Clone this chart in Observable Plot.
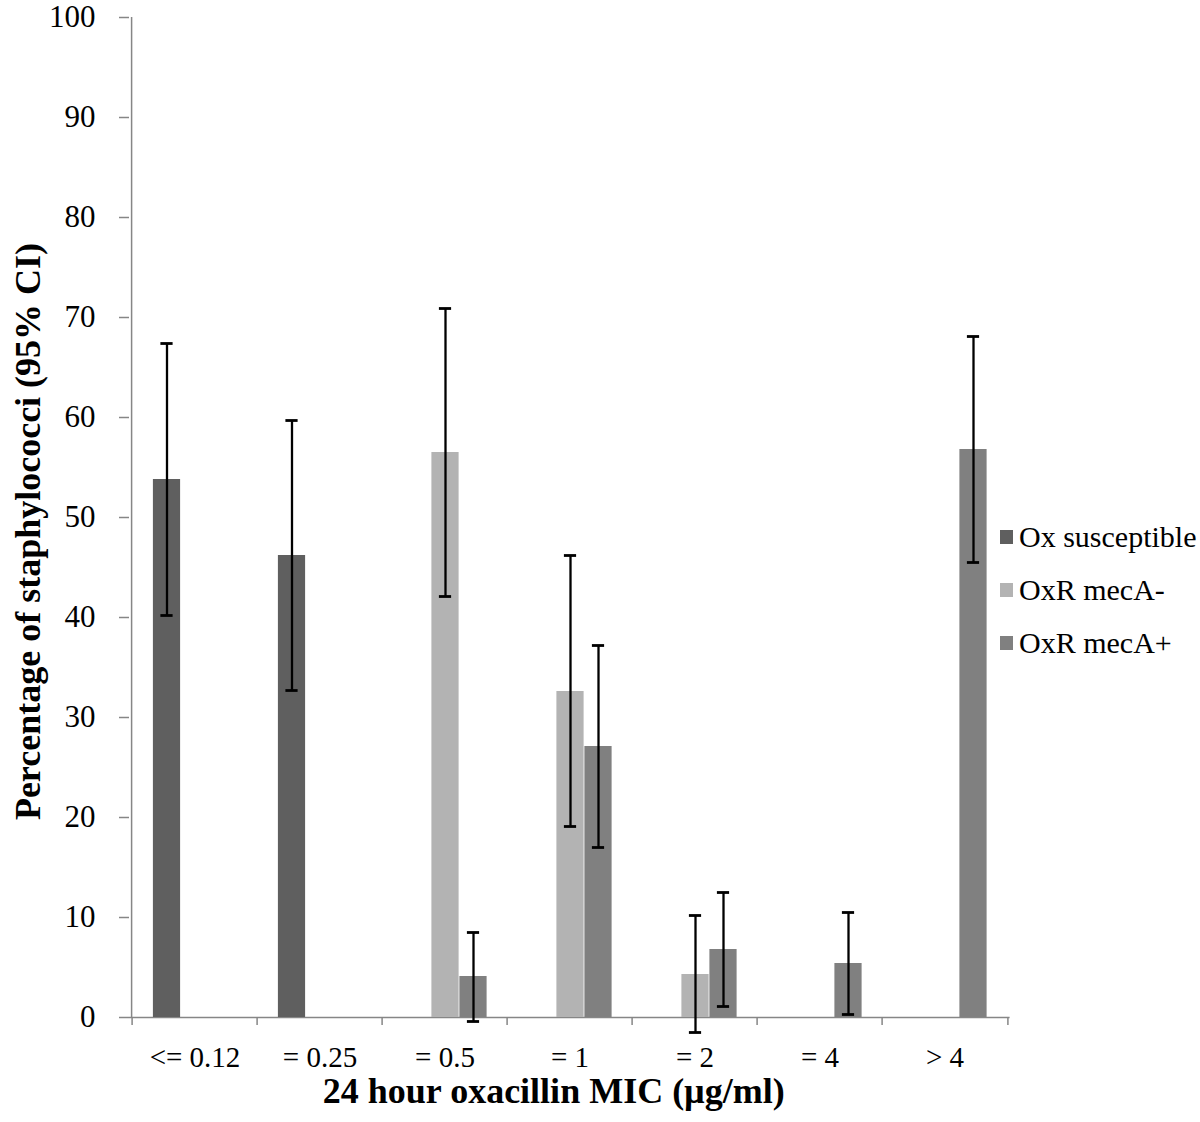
<!DOCTYPE html>
<html><head><meta charset="utf-8">
<script src="https://cdn.jsdelivr.net/npm/d3@7"></script>
<script src="https://cdn.jsdelivr.net/npm/@observablehq/plot@0.6"></script>
<style>
body{margin:0;background:#fff;}
#wrap{position:relative;width:1200px;height:1122px;font-family:"Liberation Serif","Times New Roman",serif;}
#legend{position:absolute;left:1000px;top:510px;font-size:30px;color:#000;}
.item{display:flex;align-items:center;height:53px;white-space:nowrap;}
.sw{width:13px;height:14px;margin-right:6px;flex:none;}
</style></head><body><div id="wrap"><div id="legend"></div></div>
<script>
const categories = ["<= 0.12", "= 0.25", "= 0.5", "= 1", "= 2", "= 4", "> 4"];
const seriesNames = ["Ox susceptible", "OxR mecA-", "OxR mecA+"];
const seriesColors = ["#5f5f5f", "#b3b3b3", "#808080"];

const oxSusceptible     = [53.8, 46.2, 0, 0, 0, 0, 0];
const oxSusceptibleLow  = [40.2, 32.7, null, null, null, null, null];
const oxSusceptibleHigh = [67.4, 59.7, null, null, null, null, null];

const mecANeg     = [0, 0, 56.5, 32.6, 4.3, 0, 0];
const mecANegLow  = [null, null, 42.1, 19.1, -1.5, null, null];
const mecANegHigh = [null, null, 70.9, 46.2, 10.2, null, null];

const mecAPos     = [0, 0, 4.1, 27.1, 6.8, 5.4, 56.8];
const mecAPosLow  = [null, null, -0.4, 17.0, 1.1, 0.3, 45.5];
const mecAPosHigh = [null, null, 8.5, 37.2, 12.5, 10.5, 68.1];

const yTicks = [0, 10, 20, 30, 40, 50, 60, 70, 80, 90, 100];
const xTitle = "24 hour oxacillin MIC (\u00b5g/ml)";
const yTitle = "Percentage of staphylococci (95% CI)";

const seriesValues = [oxSusceptible, mecANeg, mecAPos];
const seriesLow = [oxSusceptibleLow, mecANegLow, mecAPosLow];
const seriesHigh = [oxSusceptibleHigh, mecANegHigh, mecAPosHigh];

const W = 1200, H = 1122, ML = 129, MR = 190.4, MT = 17, MB = 105;
const step = (W - ML - MR) / categories.length;
const barW = 28;
const offsets = [-28, 0.5, 28.5];
const gray = "#868686";

const rows = seriesNames.map((s, si) => categories.map((c, ci) => ({
  category: c, series: s, value: seriesValues[si][ci], low: seriesLow[si][ci], high: seriesHigh[si][ci]
})));

const marks = [];
marks.push(Plot.ruleY([0], {stroke: gray, strokeWidth: 1.5}));
marks.push(Plot.ruleX([categories[0]], {dx: -step / 2 - 0.5, y1: 0, y2: 100, stroke: gray, strokeWidth: 1.5}));
rows.forEach((r, si) => {
  marks.push(Plot.barY(r.filter(d => d.value > 0), {
    x: "category", y: "value", fill: "series",
    insetLeft: (step - barW) / 2, insetRight: (step - barW) / 2, dx: offsets[si]
  }));
});
rows.forEach((r, si) => {
  const eb = r.filter(d => d.low != null);
  marks.push(Plot.ruleX(eb, {x: "category", y1: "low", y2: "high", dx: offsets[si], stroke: "#000", strokeWidth: 2.3}));
  for (const k of ["low", "high"]) {
    marks.push(Plot.tickY(eb, {x: "category", y: k, dx: offsets[si], stroke: "#000", strokeWidth: 2.8,
      insetLeft: (step - 13) / 2, insetRight: (step - 13) / 2}));
  }
});
marks.push(Plot.axisY(yTicks, {tickSize: 10, tickPadding: 24, fontSize: 31, stroke: gray, strokeWidth: 1.5, color: "#000", label: null}));
marks.push(Plot.axisX(categories, {tickSize: 8, dx: -step / 2, tickFormat: () => "", stroke: gray, strokeWidth: 1.5, label: null}));
marks.push(Plot.axisX([categories[categories.length - 1]], {tickSize: 8, dx: step / 2, tickFormat: () => "", stroke: gray, strokeWidth: 1.5, label: null}));
marks.push(Plot.axisX(categories, {tickSize: 0, tickPadding: 29, fontSize: 29, color: "#000", label: null}));
marks.push(Plot.text([xTitle], {frameAnchor: "bottom", dy: 85, dx: -16, fontSize: 36, fontWeight: "bold", fill: "#000"}));
marks.push(Plot.text([yTitle], {frameAnchor: "left", textAnchor: "middle", rotate: -90, dx: -101, dy: 14, fontSize: 36, fontWeight: "bold", fill: "#000"}));

const chart = Plot.plot({
  width: W, height: H,
  marginLeft: ML, marginRight: MR, marginTop: MT, marginBottom: MB,
  style: {fontFamily: "'Liberation Serif', 'Times New Roman', serif", background: "#fff", overflow: "visible"},
  x: {domain: categories, padding: 0, axis: null},
  y: {domain: [0, 100], axis: null},
  color: {domain: seriesNames, range: seriesColors},
  marks
});
const wrap = document.getElementById("wrap");
wrap.insertBefore(chart, wrap.firstChild);

const legend = document.getElementById("legend");
seriesNames.forEach((s, i) => {
  const it = document.createElement("div");
  it.className = "item";
  const sw = document.createElement("span");
  sw.className = "sw";
  sw.style.background = seriesColors[i];
  const t = document.createElement("span");
  t.textContent = s;
  it.appendChild(sw); it.appendChild(t);
  legend.appendChild(it);
});
</script></body></html>
